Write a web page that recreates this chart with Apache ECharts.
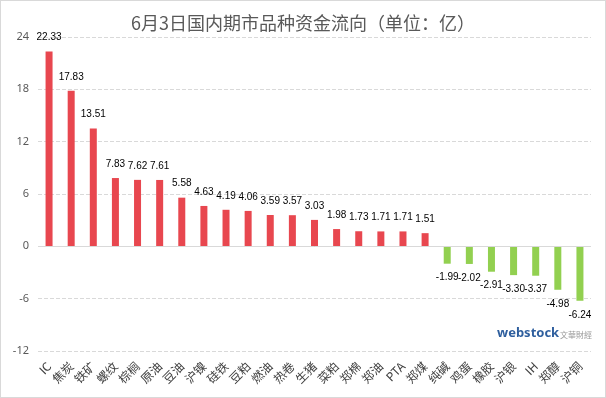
<!DOCTYPE html>
<html>
<head>
<meta charset="utf-8">
<script src="https://cdn.jsdelivr.net/npm/echarts@6/dist/echarts.min.js"></script>
<style>
    html, body { margin: 0; padding: 0; background: #fff; }
    #chart { width: 604px; height: 396px; border: 1px solid #d9d9d9; }
</style>
</head>
<body>
<div id="chart"></div>
<script>
// 品种
const categories = ['IC', '焦炭', '铁矿', '螺纹', '棕榈', '原油', '豆油', '沪镍', '硅铁', '豆粕',
    '燃油', '热卷', '生猪', '菜粕', '郑棉', '郑油', 'PTA', '郑煤',
    '纯碱', '鸡蛋', '橡胶', '沪银', 'IH', '郑醇', '沪铜']
// 资金流向（亿）
const flows = [22.33, 17.83, 13.51, 7.83, 7.62, 7.61, 5.58, 4.63, 4.19, 4.06,
    3.59, 3.57, 3.03, 1.98, 1.73, 1.71, 1.71, 1.51,
    -1.99, -2.02, -2.91, -3.30, -3.37, -4.98, -6.24]
const yTicks = [-12, -6, 0, 6, 12, 18, 24]

const chart = echarts.init(document.getElementById('chart'))

const option = {
    backgroundColor: '#fff',
    animation: false,
    title: {
        text: '6月3日国内期市品种资金流向（单位：亿）',
        left: 'center',
        top: 8,
        textStyle: {
            fontFamily: 'Noto Sans CJK SC',
            fontSize: 18,
            fontWeight: 'normal',
            color: '#595959'
        }
    },
    grid: {
        left: 37,
        right: 14,
        top: 36,
        bottom: 46
    },
    xAxis: {
        type: 'category',
        data: categories,
        position: 'bottom',
        axisLine: { onZero: false, show: false },
        axisTick: { show: false },
        axisLabel: {
            interval: 0,
            rotate: 45,
            margin: 13,
            fontSize: 12,
            color: '#404040',
            fontFamily: 'Noto Sans CJK SC'
        }
    },
    yAxis: {
        type: 'value',
        min: yTicks[0],
        max: yTicks[yTicks.length - 1],
        interval: 6,
        axisLine: { show: false },
        axisTick: { show: false },
        axisLabel: {
            fontSize: 11,
            color: '#595959',
            margin: 9,
            fontFamily: 'Noto Sans'
        },
        splitLine: {
            lineStyle: { color: '#d9d9d9', type: 'dashed' }
        }
    },
    series: [
        {
            type: 'bar',
            barWidth: 7,
            data: flows.map(v => ({
                value: v,
                itemStyle: { color: v >= 0 ? '#e8474f' : '#92d050' },
                label: { position: v >= 0 ? 'top' : 'bottom' }
            })),
            label: {
                show: true,
                fontSize: 10,
                color: '#000',
                distance: 9,
                fontFamily: 'Liberation Sans',
                formatter: p => p.value.toFixed(2)
            },
            markLine: {
                silent: true,
                symbol: 'none',
                label: { show: false },
                lineStyle: { color: '#d9d9d9', type: 'solid', width: 1 },
                data: [{ yAxis: 0 }]
            }
        }
    ],
    graphic: [
        {
            type: 'text',
            left: 496,
            top: 326,
            style: {
                text: 'webstock',
                font: 'bold 13px "Noto Sans"',
                fill: '#2f5f9e'
            }
        },
        {
            type: 'text',
            left: 559,
            top: 330,
            style: {
                text: '文華財經',
                font: '8px "Noto Sans CJK TC"',
                fill: '#999'
            }
        }
    ]
}

chart.setOption(option)
</script>
</body>
</html>
